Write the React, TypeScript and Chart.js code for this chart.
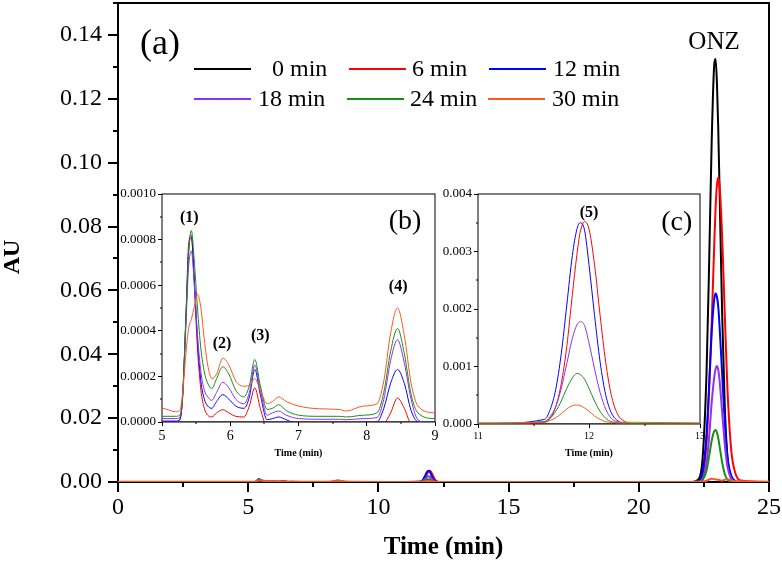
import React, { useEffect, useRef } from 'react';
import { Chart, registerables } from 'chart.js';

Chart.register(...registerables);

const FONT = "'Liberation Serif', 'Times New Roman', serif";

// Retention time grid (min)
const TIME = [
  0, 5.0, 5.2, 5.26, 5.3, 5.35, 5.39, 5.43, 5.47, 5.52, 5.57, 5.62, 5.67, 5.73, 5.8, 5.89, 5.98, 6.08, 6.2, 6.28,
  6.36, 6.44, 6.54, 6.62, 6.71, 6.82, 7.0, 7.3, 7.6, 7.7, 7.95, 8.15, 8.25, 8.35, 8.45, 8.55, 8.65, 8.75, 9.0,
  11.0, 11.6, 11.65, 11.7, 11.75, 11.8, 11.85, 11.89, 11.92, 11.96, 12.0, 12.05, 12.1, 12.15, 12.2, 12.25, 12.3, 12.4, 13.0,
  22.0, 22.3, 22.45, 22.6, 22.7, 22.8, 22.9, 22.95, 23.0, 23.05, 23.1, 23.2, 23.3, 23.4, 23.55, 23.7, 23.9, 25.0,
];

const AU_0MIN = [
  0, 0, 0, 0, 0, 0, 0, 0, 0, 0, 0, 0, 0, 0, 0, 0, 0, 0, 0, 0,
  0, 0, 0, 0, 0, 0, 0, 0, 0, 0, 0, 0, 0, 0, 0, 0, 0, 0, 0,
  0, 0, 0, 0, 0, 0, 0, 0, 0, 0, 0, 0, 0, 0, 0, 0, 0, 0, 0,
  0, 0.0009, 0.0074, 0.034, 0.068, 0.107, 0.131, 0.1325, 0.125, 0.111, 0.092, 0.053, 0.024, 0.0084, 0.0011, 0.0001, 0, 0,
];

const AU_6MIN = [
  0, 0, 0, 0.00001, 0.0001, 0.00046, 0.00078, 0.00082, 0.00062, 0.00032, 0.00014, 0.00006, 0.00003, 0.000022, 0.00004, 0.000054, 0.00004, 0.000025, 0.000022, 0.00007,
  0.00015, 0.00006, -0.00002, -0.00002, -0.00002, -0.00002, -0.00002, -0.00002, -0.00002, -0.00002, -0.00002, -0.00002, -0.00001, 0.00004, 0.000105, 0.00006, -0.00001, -0.00002, -0.00002,
  0, 0.00003, 0.0001, 0.0003, 0.0007, 0.00135, 0.00225, 0.00293, 0.00333, 0.00352, 0.00339, 0.00277, 0.00189, 0.00108, 0.00051, 0.0002, 0.00007, 0.00001, 0,
  0, 0.0002, 0.002, 0.012, 0.029, 0.05, 0.075, 0.086, 0.093, 0.0953, 0.093, 0.077, 0.053, 0.03, 0.01, 0.003, 0.0005, 0,
];

const AU_12MIN = [
  0, 0.000004, 0.000004, 0.00001, 0.0001, 0.00045, 0.00075, 0.00081, 0.00065, 0.00036, 0.00018, 0.0001, 0.00007, 0.00006, 0.00009, 0.00012, 0.0001, 0.00007, 0.00006, 0.00011,
  0.00023, 0.00012, 0.00001, 0.000015, 0.000022, 0.00001, -0.00001, -0.00001, -0.00001, -0.00001, -0.000005, 0, 0.00006, 0.00017, 0.00023, 0.00017, 0.00005, 0, -0.00001,
  0, 0.00008, 0.00025, 0.0006, 0.00122, 0.00207, 0.00293, 0.00338, 0.0035, 0.00337, 0.00277, 0.00189, 0.00108, 0.00051, 0.0002, 0.00007, 0.00002, 0, 0,
  0, 0.0003, 0.003, 0.015, 0.03, 0.047, 0.0575, 0.059, 0.058, 0.055, 0.049, 0.034, 0.019, 0.008, 0.002, 0.0003, 0, 0,
];

const AU_18MIN = [
  0.00001, 0.000015, 0.000015, 0.00002, 0.0001, 0.00042, 0.00068, 0.00075, 0.00062, 0.00038, 0.00022, 0.00014, 0.00011, 0.000095, 0.00013, 0.000174, 0.00015, 0.0001, 0.00008, 0.00013,
  0.00025, 0.00014, 0.00003, 0.00004, 0.000048, 0.00003, 0.000015, 0.000012, 0.000012, 0.00001, 0.000015, 0.00002, 0.0001, 0.00027, 0.00036, 0.00026, 0.0001, 0.00001, -0.00001,
  0.00001, 0.00004, 0.00013, 0.0003, 0.00062, 0.00105, 0.00149, 0.00172, 0.00178, 0.00171, 0.00141, 0.00096, 0.00055, 0.00026, 0.0001, 0.00004, 0.00001, 0, 0,
  0, 0.0001, 0.001, 0.006, 0.014, 0.025, 0.033, 0.0355, 0.0363, 0.0352, 0.032, 0.022, 0.012, 0.005, 0.001, 0.0002, 0, 0,
];

const AU_24MIN = [
  0.00002, 0.000025, 0.000025, 0.00003, 0.00011, 0.00045, 0.00074, 0.00084, 0.00072, 0.0005, 0.00032, 0.00022, 0.00017, 0.000147, 0.00019, 0.000242, 0.00021, 0.00014, 0.00011, 0.00016,
  0.000274, 0.00016, 0.000055, 0.00006, 0.000076, 0.00005, 0.00003, 0.000025, 0.000025, 0.000022, 0.00003, 0.00004, 0.00013, 0.00031, 0.00041, 0.0003, 0.00012, 0.00004, 0.000015,
  0.00001, 0.00004, 0.0001, 0.00022, 0.0004, 0.00062, 0.0008, 0.00088, 0.00086, 0.00078, 0.00062, 0.0004, 0.00022, 0.0001, 0.00004, 0.00002, 0.00001, 0.00001, 0.00001,
  0, 0, 0.0006, 0.0035, 0.008, 0.013, 0.016, 0.0163, 0.0155, 0.0138, 0.0113, 0.0062, 0.0025, 0.0008, 0.0001, 0, 0, 0,
];

const AU_30MIN = [
  0.00005, 0.00006, 0.000045, 0.00005, 0.00012, 0.0003, 0.00041, 0.00045, 0.0005, 0.00056, 0.0005, 0.00036, 0.00025, 0.00019, 0.00021, 0.00028, 0.00025, 0.00018, 0.000157, 0.00016,
  0.00019, 0.00014, 0.00008, 0.00009, 0.00011, 0.00009, 0.00007, 0.000058, 0.000055, 0.000048, 0.00007, 0.00008, 0.00018, 0.00039, 0.0005, 0.00038, 0.00017, 0.00007, 0.00004,
  0.00002, 0.00003, 0.00006, 0.00011, 0.00018, 0.00026, 0.00032, 0.00033, 0.00032, 0.00028, 0.00022, 0.00014, 0.00008, 0.00004, 0.00003, 0.00003, 0.00003, 0.00003, 0.00002,
  0.00002, 0.00005, 0.0001, 0.0004, 0.0008, 0.001, 0.0009, 0.0008, 0.0008, 0.0007, 0.0006, 0.0004, 0.0007, 0.0009, 0.0005, 0.0002, 0.0002, 0.0001,
];

const SERIES_LABELS = ['0 min', '6 min', '12 min', '18 min', '24 min', '30 min'];
const SERIES_VALUES = [AU_0MIN, AU_6MIN, AU_12MIN, AU_18MIN, AU_24MIN, AU_30MIN];
const SERIES_COLORS = ['#000000', '#FF0000', '#0000FF', '#9030F0', '#159015', '#FF5522'];

const framePlugin = {
  id: 'frame',
  beforeDatasetsDraw(chart: any, _args: any, opts: any) {
    const { ctx, chartArea: a } = chart;
    const xs = chart.scales.x;
    const ys = chart.scales.y;
    ctx.save();
    ctx.strokeStyle = '#000';
    ctx.lineWidth = opts.lineWidth;
    ctx.strokeRect(a.left, a.top, a.right - a.left, a.bottom - a.top);
    ctx.beginPath();
    for (let k = 0; ; k++) {
      const v = xs.min + opts.xMinor * (2 * k + 1);
      if (v > xs.max + 1e-12) break;
      const p = Math.round(xs.getPixelForValue(v));
      ctx.moveTo(p, a.bottom);
      ctx.lineTo(p, a.bottom + opts.minorLen);
    }
    for (let k = 0; ; k++) {
      const v = ys.min + opts.yMinor * (2 * k + 1);
      if (v > ys.max + 1e-12) break;
      const p = Math.round(ys.getPixelForValue(v));
      ctx.moveTo(a.left - opts.minorLen, p);
      ctx.lineTo(a.left, p);
    }
    ctx.stroke();
    ctx.restore();
  },
};

const notesPlugin = {
  id: 'notes',
  afterDraw(chart: any, _args: any, opts: any) {
    const { ctx } = chart;
    const xs = chart.scales.x;
    const ys = chart.scales.y;
    ctx.save();
    ctx.textAlign = 'center';
    ctx.textBaseline = 'middle';
    ctx.fillStyle = '#000';
    for (const n of opts.items || []) {
      ctx.font = n.font;
      const px = n.px !== undefined ? n.px : xs.getPixelForValue(n.x);
      const py = n.py !== undefined ? n.py : ys.getPixelForValue(n.y);
      ctx.save();
      ctx.translate(px, py);
      if (n.rot) ctx.rotate(n.rot);
      ctx.fillText(n.text, 0, 0);
      ctx.restore();
    }
    ctx.restore();
  },
};

const rowLegendPlugin = {
  id: 'rowLegend',
  afterDraw(chart: any, _args: any, opts: any) {
    if (!opts.items) return;
    const { ctx } = chart;
    ctx.save();
    ctx.font = opts.font;
    ctx.textBaseline = 'middle';
    ctx.textAlign = 'left';
    chart.data.datasets.forEach((ds: any, i: number) => {
      const it = opts.items[i];
      ctx.strokeStyle = ds.borderColor;
      ctx.lineWidth = opts.lineWidth;
      ctx.beginPath();
      ctx.moveTo(it.x, it.y);
      ctx.lineTo(it.x + opts.sampleLength, it.y);
      ctx.stroke();
      ctx.fillStyle = '#000';
      ctx.fillText(ds.label, it.tx, it.y + 1);
    });
    ctx.restore();
  },
};

function makeDatasets(width: number) {
  return SERIES_VALUES.map((vals, i) => ({
    label: SERIES_LABELS[i],
    data: TIME.map((t, j) => ({ x: t, y: vals[j] })),
    borderColor: SERIES_COLORS[i],
    backgroundColor: SERIES_COLORS[i],
    borderWidth: width,
    pointRadius: 0,
    fill: false,
    cubicInterpolationMode: 'monotone',
    order: SERIES_VALUES.length - 1 - i,
  }));
}

interface AxisSpec {
  xMin: number; xMax: number; xStep: number;
  yMin: number; yMax: number; yStep: number; yDigits: number;
  yWidth: number; xHeight: number;
  tickFontY: number; tickFontX: number; tickLen: number; lineW: number;
  xPad: number; yPad: number;
  titleSize: number; titlePadBottom: number;
  padding: { left: number; top: number; right: number; bottom: number };
}

function makeConfig(spec: AxisSpec, dsWidth: number, frame: any, notes: any[], legend: any) {
  return {
    type: 'line',
    data: { datasets: makeDatasets(dsWidth) },
    plugins: [framePlugin, notesPlugin, rowLegendPlugin],
    options: {
      animation: false,
      responsive: false,
      events: [],
      layout: { padding: spec.padding },
      plugins: {
        legend: { display: false },
        tooltip: { enabled: false },
        frame,
        notes: { items: notes },
        rowLegend: legend,
      },
      scales: {
        x: {
          type: 'linear',
          min: spec.xMin,
          max: spec.xMax,
          border: { display: false },
          grid: { drawOnChartArea: false, drawTicks: true, tickLength: spec.tickLen, color: '#000', lineWidth: spec.lineW },
          ticks: {
            stepSize: spec.xStep,
            autoSkip: false,
            maxRotation: 0,
            color: '#000',
            padding: spec.xPad,
            font: { family: FONT, size: spec.tickFontX },
            callback: (v: any) => String(Math.round(Number(v) * 100) / 100),
          },
          title: {
            display: true,
            text: 'Time (min)',
            color: '#000',
            font: { family: FONT, size: spec.titleSize, weight: 'bold' },
            padding: { top: 0, bottom: spec.titlePadBottom },
          },
          afterFit: (s: any) => {
            s.height = spec.xHeight;
            s.paddingLeft = 0;
            s.paddingRight = 0;
          },
        },
        y: {
          type: 'linear',
          min: spec.yMin,
          max: spec.yMax,
          border: { display: false },
          grid: { drawOnChartArea: false, drawTicks: true, tickLength: spec.tickLen, color: '#000', lineWidth: spec.lineW },
          ticks: {
            stepSize: spec.yStep,
            includeBounds: false,
            autoSkip: false,
            color: '#000',
            padding: spec.yPad,
            font: { family: FONT, size: spec.tickFontY },
            callback: (v: any) => Number(v).toFixed(spec.yDigits),
          },
          title: { display: false },
          afterFit: (s: any) => {
            s.width = spec.yWidth;
            s.paddingTop = 0;
            s.paddingBottom = 0;
          },
        },
      },
    },
  };
}

export default function App() {
  const mainRef = useRef<HTMLCanvasElement>(null);
  const bRef = useRef<HTMLCanvasElement>(null);
  const cRef = useRef<HTMLCanvasElement>(null);

  useEffect(() => {
    const main = new Chart(
      mainRef.current as HTMLCanvasElement,
      makeConfig(
        {
          xMin: 0, xMax: 25, xStep: 5,
          yMin: 0, yMax: 0.15, yStep: 0.02, yDigits: 2,
          yWidth: 118, xHeight: 85,
          tickFontY: 24, tickFontX: 24, tickLen: 10, lineW: 2,
          xPad: 1, yPad: 6,
          titleSize: 25, titlePadBottom: 4,
          padding: { left: 0, top: 3, right: 13, bottom: 0 },
        },
        2,
        { lineWidth: 2, xMinor: 2.5, yMinor: 0.01, minorLen: 5 },
        [
          { text: '(a)', x: 1.61, y: 0.137, font: `36px ${FONT}` },
          { text: 'ONZ', x: 22.89, y: 0.1375, font: `25px ${FONT}` },
          { text: 'AU', px: 13, py: 257, rot: -Math.PI / 2, font: `bold 24px ${FONT}` },
        ],
        {
          font: `24px ${FONT}`,
          lineWidth: 2,
          sampleLength: 57,
          items: [
            { x: 194, tx: 272, y: 69 },
            { x: 349, tx: 412, y: 69 },
            { x: 489, tx: 553, y: 69 },
            { x: 194, tx: 258, y: 99 },
            { x: 347, tx: 410, y: 99 },
            { x: 488, tx: 552, y: 99 },
          ],
        },
      ) as any,
    );

    const insetB = new Chart(
      bRef.current as HTMLCanvasElement,
      makeConfig(
        {
          xMin: 5, xMax: 9, xStep: 1,
          yMin: 0, yMax: 0.001, yStep: 0.0002, yDigits: 4,
          yWidth: 52, xHeight: 43,
          tickFontY: 13, tickFontX: 14, tickLen: 4, lineW: 1,
          xPad: 2, yPad: 2,
          titleSize: 10, titlePadBottom: 6,
          padding: { left: 0, top: 9, right: 5, bottom: 0 },
        },
        1,
        { lineWidth: 1, xMinor: 0.5, yMinor: 0.0001, minorLen: 2 },
        [
          { text: '(b)', x: 8.56, y: 0.000877, font: `28px ${FONT}` },
          { text: '(1)', x: 5.4, y: 0.000895, font: `bold 16px ${FONT}` },
          { text: '(2)', x: 5.88, y: 0.000342, font: `bold 16px ${FONT}` },
          { text: '(3)', x: 6.44, y: 0.000377, font: `bold 16px ${FONT}` },
          { text: '(4)', x: 8.46, y: 0.000592, font: `bold 16px ${FONT}` },
        ],
        {},
      ) as any,
    );

    const insetC = new Chart(
      cRef.current as HTMLCanvasElement,
      makeConfig(
        {
          xMin: 11, xMax: 13, xStep: 1,
          yMin: 0, yMax: 0.004, yStep: 0.001, yDigits: 3,
          yWidth: 38, xHeight: 41,
          tickFontY: 13, tickFontX: 10, tickLen: 4, lineW: 1,
          xPad: 2, yPad: 2,
          titleSize: 10, titlePadBottom: 6,
          padding: { left: 0, top: 9, right: 10, bottom: 0 },
        },
        1,
        { lineWidth: 1, xMinor: 0.5, yMinor: 0.0005, minorLen: 2 },
        [
          { text: '(c)', x: 12.79, y: 0.00351, font: `28px ${FONT}` },
          { text: '(5)', x: 12.0, y: 0.00367, font: `bold 16px ${FONT}` },
        ],
        {},
      ) as any,
    );

    return () => {
      main.destroy();
      insetB.destroy();
      insetC.destroy();
    };
  }, []);

  return (
    <div style={{ position: 'absolute', left: 0, top: 0, width: 782, height: 567, background: '#fff', overflow: 'hidden' }}>
      <canvas ref={mainRef} width={782} height={567} style={{ position: 'absolute', left: 0, top: 0, width: 782, height: 567 }} />
      <canvas ref={bRef} width={330} height={280} style={{ position: 'absolute', left: 110, top: 185, width: 330, height: 280 }} />
      <canvas ref={cRef} width={270} height={280} style={{ position: 'absolute', left: 440, top: 185, width: 270, height: 280 }} />
    </div>
  );
}
